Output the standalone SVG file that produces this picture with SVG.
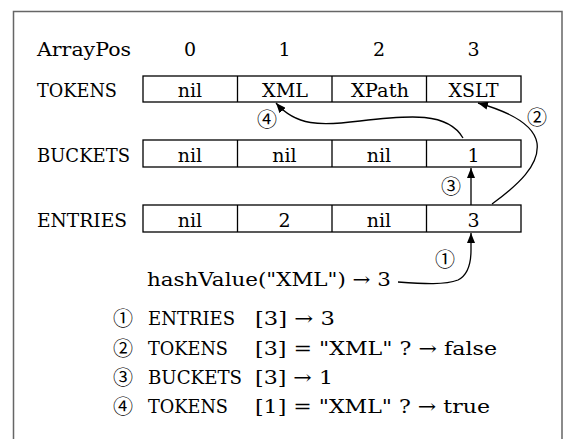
<svg xmlns="http://www.w3.org/2000/svg" width="563" height="439" viewBox="0 0 563 439">
<defs>
<style>
text{font-family:"DejaVu Serif","Liberation Serif",serif;font-size:19px;fill:#000}
.c{text-anchor:middle}
.n{font-family:"Noto Sans CJK JP","DejaVu Sans",sans-serif;font-size:20px;fill:#000}
.box{fill:#fff;stroke:#000;stroke-width:1.3}
.div{stroke:#000;stroke-width:1.3}
.conn{fill:none;stroke:#000;stroke-width:1.3}
</style>
<marker id="ah" viewBox="0 0 10 8" refX="10" refY="4" markerWidth="10" markerHeight="8" markerUnits="userSpaceOnUse" orient="auto">
<path d="M0,0 L10,4 L0,8 Z" fill="#000"/>
</marker>
</defs>
<rect width="563" height="439" fill="#fff"/>
<path d="M13.5,440 V11.5 H562 V440" fill="none" stroke="#666" stroke-width="1.5"/>

<g id="header">
<text x="37" y="56" textLength="94" lengthAdjust="spacingAndGlyphs">ArrayPos</text>
<text class="c" x="190" y="56">0</text>
<text class="c" x="284.5" y="56">1</text>
<text class="c" x="379" y="56">2</text>
<text class="c" x="473.5" y="56">3</text>
</g>

<g id="tokens">
<text x="37" y="97" textLength="80" lengthAdjust="spacingAndGlyphs">TOKENS</text>
<rect class="box" x="143" y="76" width="378" height="26"/>
<path class="div" d="M237.5,76 V102 M332,76 V102 M426.5,76 V102"/>
<text class="c" x="190" y="97">nil</text>
<text class="c" x="285" y="97" textLength="46" lengthAdjust="spacingAndGlyphs">XML</text>
<text class="c" x="380" y="97" textLength="58" lengthAdjust="spacingAndGlyphs">XPath</text>
<text class="c" x="473.5" y="97" textLength="50" lengthAdjust="spacingAndGlyphs">XSLT</text>
</g>

<g id="buckets">
<text x="37" y="162" textLength="93" lengthAdjust="spacingAndGlyphs">BUCKETS</text>
<rect class="box" x="143" y="140" width="378" height="27"/>
<path class="div" d="M237.5,140 V167 M332,140 V167 M426.5,140 V167"/>
<text class="c" x="190" y="162">nil</text>
<text class="c" x="284.5" y="162">nil</text>
<text class="c" x="379" y="162">nil</text>
<text class="c" x="473.5" y="162">1</text>
</g>

<g id="entries">
<text x="37" y="227" textLength="90" lengthAdjust="spacingAndGlyphs">ENTRIES</text>
<rect class="box" x="143" y="205" width="378" height="27"/>
<path class="div" d="M237.5,205 V232 M332,205 V232 M426.5,205 V232"/>
<text class="c" x="190" y="227">nil</text>
<text class="c" x="284.5" y="227">2</text>
<text class="c" x="379" y="227">nil</text>
<text class="c" x="473.5" y="227">3</text>
</g>

<g id="hash">
<text x="147" y="286" textLength="244" lengthAdjust="spacingAndGlyphs">hashValue("XML") → 3</text>
</g>

<g id="connectors">
<path class="conn" marker-end="url(#ah)" d="M398,282 C425,284 445,285 458,280 C468,275 471,262 471,250 L471,233"/>
<path class="conn" marker-end="url(#ah)" d="M471,205 L471,168"/>
<path class="conn" marker-end="url(#ah)" d="M492,204 C518,185 540,165 537,143 C534,125 510,112 478,103"/>
<path class="conn" marker-end="url(#ah)" d="M463,138 C448,112 410,115 360,121 C320,126 296,126 276,103"/>
</g>

<g id="step-labels">
<text class="n c" x="445" y="267">①</text>
<text class="n c" x="537" y="125">②</text>
<text class="n c" x="451" y="194">③</text>
<text class="n c" x="267" y="127">④</text>
</g>

<g id="legend">
<text class="n" x="113" y="326">①</text>
<text x="148" y="325" textLength="87" lengthAdjust="spacingAndGlyphs">ENTRIES</text>
<text x="255" y="325" textLength="80" lengthAdjust="spacingAndGlyphs">[3] → 3</text>
<text class="n" x="113" y="356">②</text>
<text x="148" y="355" textLength="80" lengthAdjust="spacingAndGlyphs">TOKENS</text>
<text x="255" y="355" textLength="242" lengthAdjust="spacingAndGlyphs">[3] = "XML" ? → false</text>
<text class="n" x="113" y="385">③</text>
<text x="148" y="384" textLength="94" lengthAdjust="spacingAndGlyphs">BUCKETS</text>
<text x="255" y="384" textLength="78" lengthAdjust="spacingAndGlyphs">[3] → 1</text>
<text class="n" x="113" y="414">④</text>
<text x="148" y="413" textLength="80" lengthAdjust="spacingAndGlyphs">TOKENS</text>
<text x="255" y="413" textLength="235" lengthAdjust="spacingAndGlyphs">[1] = "XML" ? → true</text>
</g>
</svg>
